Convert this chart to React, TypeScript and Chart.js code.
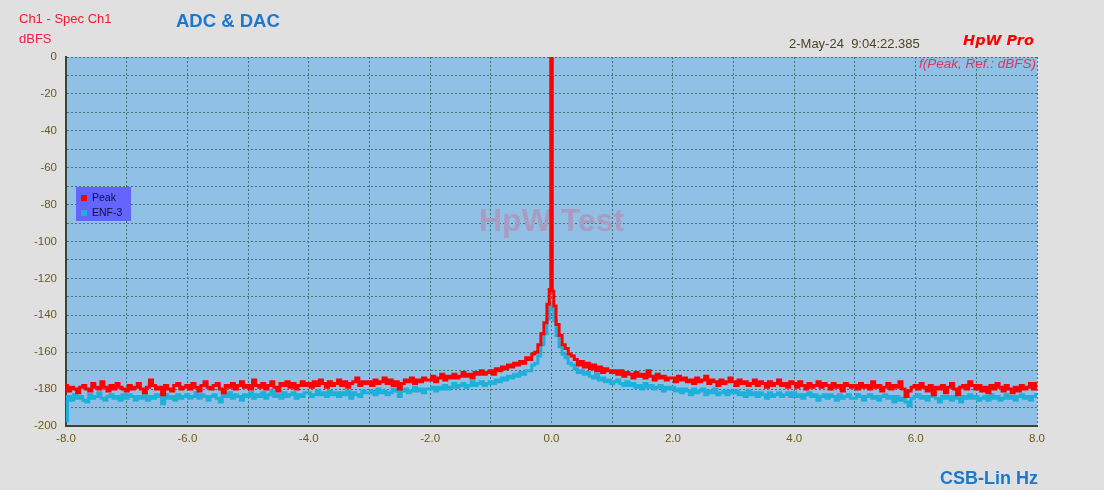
import React, { useEffect, useRef } from "react";
import { Chart, registerables } from "chart.js";

Chart.register(...registerables);

// ---- data ----
const X_TICK_MIN = -8;
const X_TICK_MAX = 8;
const Y_TICK_MIN = -200;
const Y_TICK_MAX = 0;
const BIN_STEP = 0.05;
const LEFT_START = -8.0;
const RIGHT_START = 0.15;

// Peak trace, bins -8.00 .. -0.15 Hz
const PEAK_LEFT = [
  -178, -181, -179, -180, -182, -179, -178, -180, -181, -177, -179, -180, -176, -179, -181, -178, -180, -177, -179, -180,
  -181, -178, -180, -179, -177, -180, -182, -179, -175, -178, -180, -179, -183, -178, -180, -181, -178, -177, -180, -179,
  -178, -180, -177, -179, -181, -178, -176, -179, -180, -178, -177, -180, -182, -178, -179, -177, -180, -178, -176, -179,
  -178, -180, -175, -178, -179, -177, -180, -178, -176, -179, -181, -177, -178, -176, -179, -177, -180, -178, -176, -178,
  -177, -179, -176, -178, -175, -177, -179, -176, -178, -177, -175, -178, -176, -179, -177, -176, -174, -178, -176, -177,
  -176, -178, -175, -177, -176, -174, -177, -175, -178, -176, -180, -177, -175, -176, -174, -177, -175, -176, -174, -175,
  -175, -173, -176, -174, -172, -175, -173, -174, -172, -174, -173, -171, -173, -172, -174, -171, -172, -170, -172, -171,
  -170, -172, -169, -170, -168, -169, -167, -168, -166, -167, -165, -166, -163, -164, -161, -160, -156, -150,
];
// Peak trace, bins 0.15 .. 8.00 Hz
const PEAK_RIGHT = [
  -151, -156, -158, -161, -162, -164, -167, -165, -168, -166, -169, -167, -170, -168, -171, -169, -170,
  -171, -170, -172, -170, -173, -171, -172, -174, -171, -173, -172, -174, -170, -173, -175, -172, -174, -173, -175, -174,
  -174, -176, -173, -175, -174, -176, -175, -177, -174, -176, -175, -173, -177, -175, -176, -178, -175, -177, -176, -174,
  -176, -178, -175, -177, -176, -178, -177, -175, -178, -176, -177, -179, -176, -178, -177, -175, -178, -177, -179, -176,
  -177, -179, -176, -178, -180, -177, -179, -178, -176, -179, -177, -178, -180, -177, -179, -178, -181, -177, -178, -179,
  -178, -180, -177, -179, -178, -180, -176, -179, -178, -181, -179, -177, -180, -178, -179, -176, -180, -184, -181, -179,
  -178, -180, -177, -179, -181, -178, -183, -179, -180, -178, -182, -179, -177, -180, -183, -179, -178, -180, -176, -178,
  -180, -178, -181, -179, -182, -178, -180, -177, -179, -181, -178, -180, -182, -179, -181, -178, -180, -179, -177, -180,
  -177,
];
// ENF-3 trace, bins -8.00 .. -0.15 Hz
const ENF_LEFT = [
  -197, -184, -186, -183, -185, -184, -186, -187, -183, -185, -184, -182, -185, -186, -184, -183, -185, -184, -186, -183,
  -185, -183, -184, -186, -184, -185, -183, -186, -184, -185, -183, -184, -188, -183, -185, -184, -186, -183, -185, -184,
  -183, -185, -184, -182, -185, -183, -184, -186, -184, -183, -185, -187, -183, -184, -182, -185, -183, -184, -186, -183,
  -184, -182, -185, -183, -184, -182, -185, -183, -181, -184, -183, -185, -182, -184, -183, -182, -185, -183, -184, -182,
  -182, -184, -183, -181, -183, -182, -184, -181, -183, -182, -184, -182, -183, -181, -185, -182, -183, -184, -181, -182,
  -182, -181, -183, -180, -182, -181, -183, -182, -180, -181, -184, -181, -180, -182, -181, -179, -181, -180, -182, -180,
  -180, -179, -181, -179, -180, -178, -180, -179, -177, -179, -178, -177, -179, -178, -176, -178, -177, -176, -178, -177,
  -176, -177, -175, -176, -174, -175, -173, -174, -172, -173, -171, -172, -170, -170, -167, -166, -162, -156,
];
// ENF-3 trace, bins 0.15 .. 8.00 Hz
const ENF_RIGHT = [
  -157, -161, -163, -166, -167, -169, -171, -170, -172, -171, -173, -174, -172, -175, -174, -176, -175,
  -177, -176, -175, -177, -178, -176, -178, -177, -179, -178, -180, -177, -179, -178, -180, -179, -178, -181, -179, -180,
  -179, -181, -180, -182, -180, -181, -183, -180, -182, -181, -180, -183, -181, -182, -180, -183, -182, -181, -183, -181,
  -182, -181, -183, -182, -184, -181, -183, -182, -184, -182, -183, -185, -182, -184, -183, -182, -184, -183, -182, -184,
  -182, -184, -183, -185, -183, -182, -184, -183, -186, -184, -183, -185, -183, -184, -186, -183, -185, -184, -183, -185,
  -185, -183, -184, -186, -184, -183, -185, -184, -186, -184, -183, -185, -184, -187, -184, -186, -185, -187, -189, -185,
  -184, -183, -185, -184, -186, -184, -183, -185, -187, -184, -185, -184, -186, -184, -185, -187, -184, -185, -183, -185,
  -184, -186, -185, -184, -186, -183, -185, -184, -186, -185, -183, -185, -184, -186, -184, -183, -185, -184, -186, -184,
  -183,
];
// fine bins around the carrier
const SPIKE_FREQS = [-0.1, -0.05, -0.025, 0, 0.025, 0.05, 0.1];
const PEAK_SPIKE = [-144, -134, -126, 0, -127, -135, -145];
const ENF_SPIKE = [-150, -142, -136, -133, -137, -143, -151];

const SERIES_NAMES = ["Peak", "ENF-3"];
const SERIES_COLORS = ["#ff0000", "#1eb0d8"];

function buildSeries(left: number[], spike: number[], right: number[]) {
  const pts: { x: number; y: number }[] = [];
  left.forEach((v, i) => pts.push({ x: +(LEFT_START + i * BIN_STEP).toFixed(3), y: v }));
  spike.forEach((v, i) => pts.push({ x: SPIKE_FREQS[i], y: v }));
  right.forEach((v, i) => pts.push({ x: +(RIGHT_START + i * BIN_STEP).toFixed(3), y: v }));
  return pts;
}

const PLOT_BG = "#90c0e6";
const GRID_COLOR = "#3d7570";
const TICK_COLOR = "#6b5a1a";
const AXIS_COLOR = "#3a4630";

const plotBgPlugin = {
  id: "plotBg",
  beforeDraw(chart: any) {
    const { ctx, chartArea } = chart;
    ctx.save();
    ctx.fillStyle = PLOT_BG;
    ctx.fillRect(chartArea.left, chartArea.top, chartArea.right - chartArea.left, chartArea.bottom - chartArea.top);
    ctx.restore();
  },
  beforeDatasetsDraw(chart: any) {
    const { ctx, chartArea } = chart;
    ctx.save();
    ctx.font = "bold 32px 'Liberation Sans', Arial, sans-serif";
    ctx.fillStyle = "#aa9cc0";
    ctx.textAlign = "center";
    ctx.textBaseline = "middle";
    ctx.fillText("HpW Test", (chartArea.left + chartArea.right) / 2, 222);
    ctx.font = "italic 13.5px 'Liberation Sans', Arial, sans-serif";
    ctx.fillStyle = "#e0355f";
    ctx.textAlign = "right";
    ctx.fillText("f(Peak, Ref.: dBFS)", chartArea.right - 1, 64);
    ctx.restore();
  },
  afterDatasetsDraw(chart: any) {
    const { ctx } = chart;
    ctx.save();
    ctx.fillStyle = "#6464ff";
    ctx.fillRect(76, 187, 55, 34);
    ctx.font = "10.5px 'Liberation Sans', Arial, sans-serif";
    ctx.textBaseline = "middle";
    ctx.textAlign = "left";
    SERIES_NAMES.forEach((name, i) => {
      const cy = 198 + i * 15;
      ctx.fillStyle = SERIES_COLORS[i];
      ctx.fillRect(81, cy - 3, 6, 6);
      ctx.fillStyle = "#101040";
      ctx.fillText(name, 92, cy + 0.5);
    });
    ctx.restore();
  },
};

function App() {
  const canvasRef = useRef<HTMLCanvasElement | null>(null);

  useEffect(() => {
    document.body.style.margin = "0";
    const canvas = canvasRef.current;
    if (!canvas) return;
    const chart = new Chart(canvas, {
      type: "line",
      data: {
        datasets: [
          {
            label: SERIES_NAMES[0],
            data: buildSeries(PEAK_LEFT, PEAK_SPIKE, PEAK_RIGHT),
            borderColor: SERIES_COLORS[0],
            borderWidth: 3,
            pointRadius: 0,
            stepped: "middle",
            order: 0,
          },
          {
            label: SERIES_NAMES[1],
            data: buildSeries(ENF_LEFT, ENF_SPIKE, ENF_RIGHT),
            borderColor: SERIES_COLORS[1],
            borderWidth: 3,
            pointRadius: 0,
            stepped: "middle",
            order: 1,
          },
        ],
      },
      options: {
        responsive: false,
        animation: false,
        devicePixelRatio: 1,
        layout: { padding: { left: 0, right: 67, top: 57, bottom: 0 } },
        plugins: { legend: { display: false }, tooltip: { enabled: false } },
        scales: {
          x: {
            type: "linear",
            min: X_TICK_MIN,
            max: X_TICK_MAX,
            afterFit(s: any) {
              s.height = 64;
              s.paddingLeft = 0;
              s.paddingRight = 0;
            },
            ticks: {
              stepSize: 1,
              autoSkip: false,
              maxRotation: 0,
              padding: 6,
              color: TICK_COLOR,
              font: { family: "'Liberation Sans', Arial, sans-serif", size: 11.5 },
              callback: (v: any) => (Math.round(v) % 2 === 0 ? Number(v).toFixed(1) : ""),
            },
            grid: { color: GRID_COLOR, lineWidth: 1, drawTicks: false },
            border: { display: true, color: AXIS_COLOR, width: 2, dash: [2, 2] },
          },
          y: {
            type: "linear",
            min: Y_TICK_MIN,
            max: Y_TICK_MAX,
            afterFit(s: any) {
              s.width = 66;
              s.paddingTop = 0;
              s.paddingBottom = 0;
            },
            ticks: {
              stepSize: 10,
              autoSkip: false,
              padding: 9,
              color: TICK_COLOR,
              font: { family: "'Liberation Sans', Arial, sans-serif", size: 11.5 },
              callback: (v: any) => (Math.round(v) % 20 === 0 ? String(v) : ""),
            },
            grid: { color: GRID_COLOR, lineWidth: 1, drawTicks: false },
            border: { display: true, color: AXIS_COLOR, width: 2, dash: [2, 2] },
          },
        },
      },
      plugins: [plotBgPlugin],
    } as any);
    return () => chart.destroy();
  }, []);

  const txt = (extra: React.CSSProperties): React.CSSProperties => ({
    position: "absolute",
    whiteSpace: "pre",
    height: 20,
    lineHeight: "20px",
    fontFamily: "'Liberation Sans', Arial, sans-serif",
    ...extra,
  });

  return (
    <div style={{ position: "relative", width: 1104, height: 490, background: "#e0e0e0", overflow: "hidden" }}>
      <canvas ref={canvasRef} width={1104} height={490} style={{ position: "absolute", left: 0, top: 0 }} />
      <div style={txt({ left: 19, top: 9, fontSize: 13, color: "#ee1c2c" })}>Ch1 - Spec Ch1</div>
      <div style={txt({ left: 19, top: 29, fontSize: 13, color: "#e8204a" })}>dBFS</div>
      <div style={txt({ left: 176, top: 11, fontSize: 18.5, fontWeight: "bold", color: "#1a78d2" })}>ADC &amp; DAC</div>
      <div style={txt({ left: 789, top: 34, fontSize: 13, color: "#4a4424" })}>2-May-24  9:04:22.385</div>
      <div
        style={txt({
          left: 963,
          top: 30,
          fontSize: 14.5,
          fontWeight: "bold",
          fontStyle: "italic",
          color: "#ff0000",
          fontFamily: "'DejaVu Sans', sans-serif",
        })}
      >
        HpW Pro
      </div>
      <div style={txt({ left: 940, top: 468, fontSize: 18, fontWeight: "bold", color: "#1a78d2" })}>CSB-Lin Hz</div>
    </div>
  );
}

export default App;
